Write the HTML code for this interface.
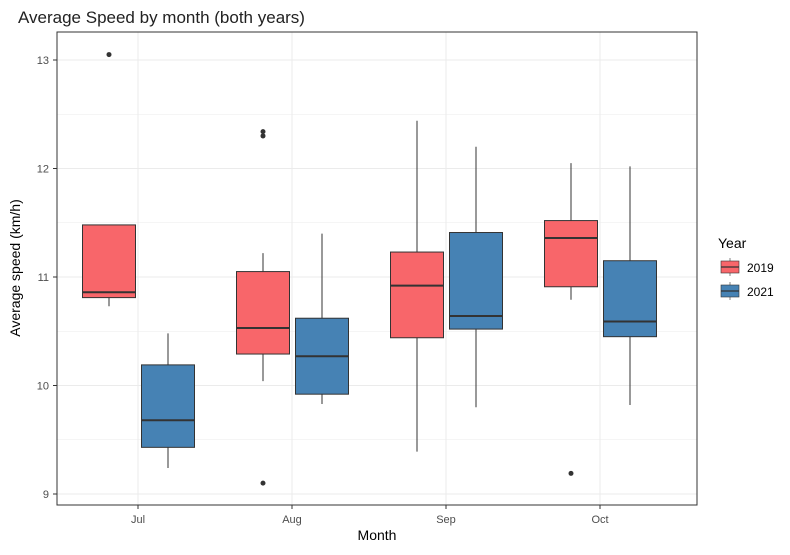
<!DOCTYPE html>
<html><head><meta charset="utf-8"><style>
body{margin:0;background:#fff;font-family:"Liberation Sans",sans-serif}
</style></head><body>
<svg id="chart" width="790" height="550" xmlns="http://www.w3.org/2000/svg">
<rect width="790" height="550" fill="#fff"/>
<text x="18" y="23" font-size="17" fill="#222">Average Speed by month (both years)</text>
<g id="grid"></g>
<g id="boxes"></g>
<rect x="57" y="32" width="640" height="473" fill="none" stroke="#333" stroke-width="1"/>
<g id="axes"></g>
<text x="377" y="540" font-size="14" text-anchor="middle" fill="#000">Month</text>
<text transform="translate(20,268) rotate(-90)" font-size="14" text-anchor="middle" fill="#000">Average speed (km/h)</text>
<g>
<text x="718" y="248" font-size="14" fill="#000">Year</text>
<g>
<line x1="730" y1="258" x2="730" y2="276" stroke="#333" stroke-width="0.6"/>
<rect x="721" y="261" width="18" height="12" fill="#F8666A" stroke="#333" stroke-width="0.6"/>
<line x1="721" y1="267" x2="739" y2="267" stroke="#333" stroke-width="1.2"/>
<text x="747" y="272" font-size="12" fill="#000">2019</text></g>
<g>
<line x1="730" y1="282" x2="730" y2="300" stroke="#333" stroke-width="0.6"/>
<rect x="721" y="285" width="18" height="12" fill="#4682B4" stroke="#333" stroke-width="0.6"/>
<line x1="721" y1="291" x2="739" y2="291" stroke="#333" stroke-width="1.2"/>
<text x="747" y="296" font-size="12" fill="#000">2021</text></g>
</g>
</svg>
<script>
const months=["Jul","Aug","Sep","Oct"];
const years=["2019","2021"];
const colors=["#F8666A","#4682B4"];
const yTicks=[9,10,11,12,13];
// [lowWhisker, q1, median, q3, highWhisker] per month
const stats2019=[[10.73,10.81,10.86,11.48,11.48],[10.04,10.29,10.53,11.05,11.22],[9.39,10.44,10.92,11.23,12.44],[10.79,10.91,11.36,11.52,12.05]];
const stats2021=[[9.24,9.43,9.68,10.19,10.48],[9.83,9.92,10.27,10.62,11.40],[9.80,10.52,10.64,11.41,12.20],[9.82,10.45,10.59,11.15,12.02]];
const outliers2019=[[13.05],[12.34,12.30,9.10],[],[9.19]];
const outliers2021=[[],[],[],[]];
const NS="http://www.w3.org/2000/svg";
const L=57,R=697,T=32,B=505;
const ys=v=>494-(v-9)*108.5;
const xc=i=>138+154*i;
function mk(t,a,p){const e=document.createElementNS(NS,t);for(const k in a)e.setAttribute(k,a[k]);p.appendChild(e);return e;}
const grid=document.getElementById('grid'),bx=document.getElementById('boxes'),ax=document.getElementById('axes');
for(let v=9;v<=13;v+=0.5){const g=mk('line',{x1:L,x2:R,y1:ys(v),y2:ys(v),stroke:'#ebebeb','stroke-width':Number.isInteger(v)?1:0.5},grid);

}
months.forEach((m,i)=>{const cx=xc(i);
const g=mk('line',{x1:cx,x2:cx,y1:T,y2:B,stroke:'#ebebeb'},grid);


const tk=mk('line',{x1:cx,x2:cx,y1:B,y2:B+4,stroke:'#333'},ax);


const t=mk('text',{x:cx,y:B+18,'font-size':11,'text-anchor':'middle',fill:'#4d4d4d'},ax);t.textContent=m;

});
yTicks.forEach(v=>{const tk=mk('line',{x1:L-4,x2:L,y1:ys(v),y2:ys(v),stroke:'#333'},ax);


const t=mk('text',{x:L-8,y:ys(v)+4,'font-size':11,'text-anchor':'end',fill:'#4d4d4d'},ax);t.textContent=v;

});
const bw=53;
[stats2019,stats2021].forEach((S,si)=>{const O=si?outliers2021:outliers2019;
S.forEach((s,i)=>{const cx=xc(i)+(si?30:-29);
const g=mk('g',{},bx);


mk('line',{x1:cx,x2:cx,y1:ys(s[4]),y2:ys(s[0]),stroke:'#333','stroke-width':1},g);
mk('rect',{x:cx-bw/2,y:ys(s[3]),width:bw,height:ys(s[1])-ys(s[3]),fill:colors[si],stroke:'#333','stroke-width':1},g);
mk('line',{x1:cx-bw/2,x2:cx+bw/2,y1:ys(s[2]),y2:ys(s[2]),stroke:'#333','stroke-width':2},g);
O[i].forEach(o=>{const c=mk('circle',{cx:cx,cy:ys(o),r:2.5,fill:'#333'},g);

});
});});
</script>
</body></html>
